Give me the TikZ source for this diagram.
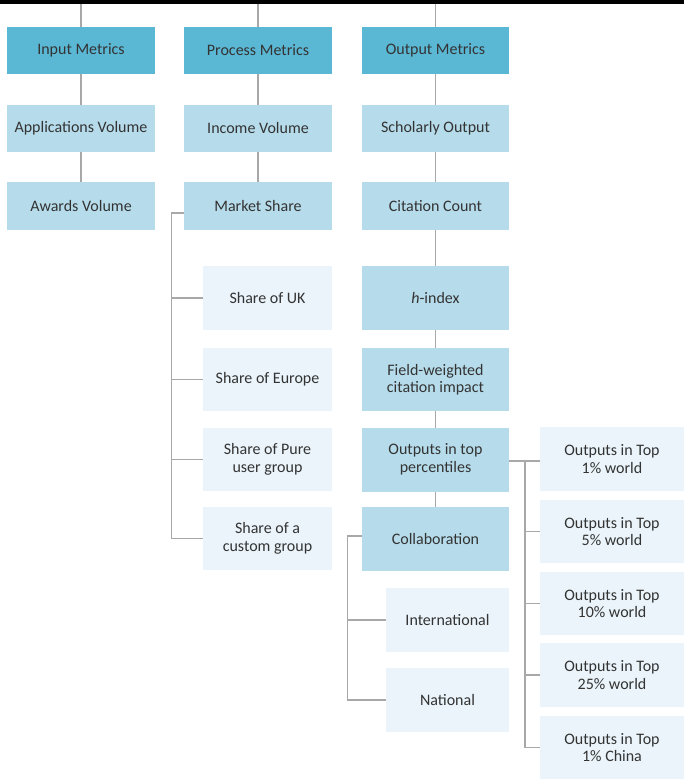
\documentclass[tikz,border=0pt]{standalone}
\usepackage{fontspec}
\setmainfont{Carlito}
\definecolor{headc}{HTML}{5BB8D5}
\definecolor{midc}{HTML}{B6DCEB}
\definecolor{lightc}{HTML}{EAF4FA}
\definecolor{linec}{HTML}{A8A8A8}
\definecolor{txtc}{HTML}{333333}
\tikzset{
  box/.style={rectangle, inner sep=0pt, outer sep=0pt, align=center, text=txtc,
    font=\fontsize{16}{17.5}\selectfont},
  headbox/.style={box, fill=headc},
  midbox/.style={box, fill=midc},
  lightbox/.style={box, fill=lightc},
  conn/.style={draw=linec, line width=1.7pt},
}
\begin{document}
\begin{tikzpicture}[x=1pt,y=-1pt]
\useasboundingbox[fill=white] (0,0) rectangle (684,782);
\fill[black] (0,0) rectangle (684,3.5);
% column 1
\node[headbox, minimum width=148pt, minimum height=47pt] (im) at (81,50.5) {Input Metrics};
\node[midbox, minimum width=148pt, minimum height=47pt] (av) at (81,128.5) {Applications Volume};
\node[midbox, minimum width=148pt, minimum height=48pt] (aw) at (81,206) {Awards Volume};
% column 2
\node[headbox, minimum width=148pt, minimum height=47pt] (pm) at (258,50.5) {Process Metrics};
\node[midbox, minimum width=148pt, minimum height=47pt] (iv) at (258,128.5) {Income Volume};
\node[midbox, minimum width=148pt, minimum height=48pt] (ms) at (258,206) {Market Share};
\node[lightbox, minimum width=129pt, minimum height=64pt] (uk) at (267.5,298) {Share of UK};
\node[lightbox, minimum width=129pt, minimum height=63pt] (eu) at (267.5,379.5) {Share of Europe};
\node[lightbox, minimum width=129pt, minimum height=63pt] (pu) at (267.5,459.5) {Share of Pure\\user group};
\node[lightbox, minimum width=129pt, minimum height=63pt] (cg) at (267.5,538.5) {Share of a\\custom group};
% column 3
\node[headbox, minimum width=147pt, minimum height=47pt] (om) at (435.5,50.5) {Output Metrics};
\node[midbox, minimum width=147pt, minimum height=47pt] (so) at (435.5,128.5) {Scholarly Output};
\node[midbox, minimum width=147pt, minimum height=48pt] (cc) at (435.5,206) {Citation Count};
\node[midbox, minimum width=147pt, minimum height=64pt] (hi) at (435.5,298) {\textit{h}-index};
\node[midbox, minimum width=147pt, minimum height=63pt] (fw) at (435.5,379.5) {Field-weighted\\citation impact};
\node[midbox, minimum width=147pt, minimum height=64pt] (tp) at (435.5,459.5) {Outputs in top\\percentiles};
\node[midbox, minimum width=147pt, minimum height=64pt] (co) at (435.5,539) {Collaboration};
\node[lightbox, minimum width=123pt, minimum height=64pt] (in) at (447.5,620) {International};
\node[lightbox, minimum width=123pt, minimum height=64pt] (na) at (447.5,700) {National};
% column 4
\node[lightbox, minimum width=144pt, minimum height=64pt] (w1) at (612,459) {Outputs in Top\\1\% world};
\node[lightbox, minimum width=144pt, minimum height=63pt] (w5) at (612,531.5) {Outputs in Top\\5\% world};
\node[lightbox, minimum width=144pt, minimum height=63pt] (w10) at (612,603.5) {Outputs in Top\\10\% world};
\node[lightbox, minimum width=144pt, minimum height=64pt] (w25) at (612,675) {Outputs in Top\\25\% world};
\node[lightbox, minimum width=144pt, minimum height=63pt] (c1) at (612,747.5) {Outputs in Top\\1\% China};
% top coordinates
\coordinate (t1) at (81,3.5);
\coordinate (t2) at (258,3.5);
\coordinate (t3) at (435.5,3.5);
% vertical connectors
\draw[conn] (t1) -- (im.north);
\draw[conn] (im.south) -- (av.north);
\draw[conn] (av.south) -- (aw.north);
\draw[conn] (t2) -- (pm.north);
\draw[conn] (pm.south) -- (iv.north);
\draw[conn] (iv.south) -- (ms.north);
\draw[conn] (t3) -- (om.north);
\draw[conn] (om.south) -- (so.north);
\draw[conn] (so.south) -- (cc.north);
\draw[conn] (cc.south) -- (hi.north);
\draw[conn] (hi.south) -- (fw.north);
\draw[conn] (fw.south) -- (tp.north);
\draw[conn] (tp.south) -- (co.north);
% market share bracket
\coordinate (msb) at (171.5,213);
\draw[conn] (ms.west |- msb) -- (msb) |- (cg.west);
\draw[conn] (uk.west) -- (uk.west -| msb);
\draw[conn] (eu.west) -- (eu.west -| msb);
\draw[conn] (pu.west) -- (pu.west -| msb);
% collaboration bracket
\coordinate (cob) at (347.5,536);
\draw[conn] (co.west |- cob) -- (cob) |- (na.west);
\draw[conn] (in.west) -- (in.west -| cob);
% percentiles bracket
\coordinate (tpb) at (525,461);
\draw[conn] (tp.east |- tpb) -- (tpb) -- (w1.west |- tpb);
\draw[conn] (tpb) |- (c1.west);
\draw[conn] (w5.west) -- (w5.west -| tpb);
\draw[conn] (w10.west) -- (w10.west -| tpb);
\draw[conn] (w25.west) -- (w25.west -| tpb);
\end{tikzpicture}
\end{document}
